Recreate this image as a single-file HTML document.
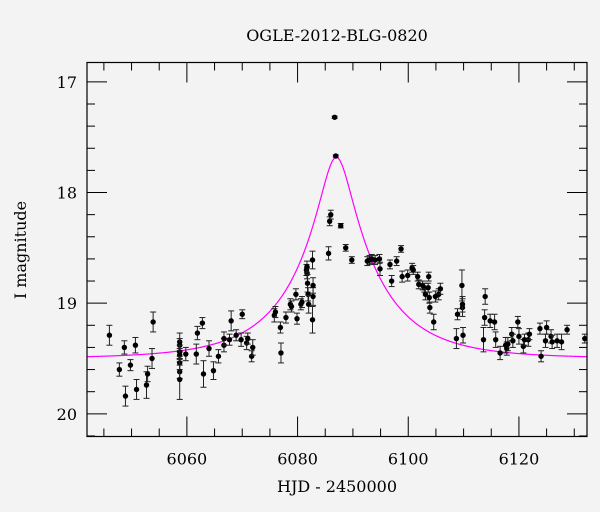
<!DOCTYPE html>
<html><head><meta charset="utf-8"><style>
body{margin:0;background:#f3f3f3;}
svg{display:block;font-family:"DejaVu Serif","Liberation Serif",serif;}
</style></head><body>
<svg id="chart" width="600" height="512" viewBox="0 0 600 512" xmlns="http://www.w3.org/2000/svg">
<rect width="600" height="512" fill="#f3f3f3"/>
<text x="337" y="41" text-anchor="middle" font-size="16">OGLE-2012-BLG-0820</text>
<text x="337" y="492" text-anchor="middle" font-size="16">HJD - 2450000</text>
<text transform="translate(26,250) rotate(-90)" text-anchor="middle" font-size="16">I magnitude</text>
<g id="ticks"></g>
<path id="model" fill="none" stroke="#ff00ff" stroke-width="1.2"/>
<g id="pts"></g>
<rect x="87" y="62.5" width="500" height="374" fill="none" stroke="#000" stroke-width="1.2"/>
</svg>
<script>
const days=[6046.0,6047.8,6048.7,6048.9,6049.8,6050.7,6050.9,6052.7,6052.9,6053.7,6053.9,6058.7,6058.7,6058.7,6058.7,6058.7,6058.7,6058.7,6059.8,6061.7,6061.9,6062.8,6063.0,6064.0,6064.8,6065.7,6066.7,6066.7,6067.7,6068.0,6068.9,6069.8,6070.0,6070.8,6071.0,6071.7,6071.9,6075.8,6076.0,6076.9,6077.0,6077.9,6078.7,6078.9,6079.7,6079.9,6080.6,6080.8,6081.6,6081.7,6081.7,6081.8,6081.9,6082.0,6082.7,6082.8,6082.8,6082.7,6085.6,6085.8,6086.0,6086.7,6086.9,6087.8,6088.7,6089.8,6092.6,6093.0,6093.4,6094.0,6094.8,6094.9,6096.7,6097.0,6097.9,6098.7,6098.9,6099.9,6100.7,6100.9,6101.7,6101.9,6102.6,6102.9,6103.1,6103.6,6103.7,6103.8,6103.9,6104.6,6104.9,6105.5,6105.8,6108.7,6108.9,6109.7,6109.8,6109.8,6109.9,6113.6,6113.8,6113.9,6114.8,6115.6,6115.8,6116.6,6117.6,6117.8,6118.0,6118.7,6118.9,6119.8,6120.0,6120.8,6121.0,6121.7,6121.9,6123.8,6124.0,6124.8,6125.0,6125.8,6126.0,6126.9,6127.7,6128.7,6131.9];
const mags=[19.29,19.60,19.40,19.84,19.56,19.38,19.78,19.74,19.64,19.50,19.17,19.35,19.38,19.44,19.47,19.54,19.62,19.69,19.46,19.46,19.27,19.18,19.64,19.41,19.61,19.48,19.38,19.32,19.33,19.16,19.29,19.33,19.10,19.36,19.32,19.48,19.40,19.11,19.08,19.22,19.45,19.13,19.01,19.03,18.92,19.14,19.01,18.99,18.70,18.73,18.67,18.82,18.92,19.01,18.61,18.94,18.84,19.15,18.55,18.26,18.20,17.32,17.67,18.30,18.50,18.61,18.62,18.61,18.60,18.61,18.60,18.69,18.65,18.80,18.62,18.51,18.76,18.75,18.68,18.70,18.76,18.83,18.84,18.86,18.92,18.86,18.76,18.95,19.04,19.17,18.94,18.92,18.87,19.32,19.10,18.84,19.04,19.01,19.29,19.33,19.13,18.94,19.16,19.17,19.33,19.45,19.38,19.41,19.37,19.28,19.34,19.17,19.30,19.39,19.33,19.33,19.28,19.23,19.48,19.34,19.22,19.30,19.35,19.34,19.35,19.24,19.32];
const errs=[0.09,0.06,0.06,0.09,0.05,0.07,0.09,0.12,0.07,0.09,0.09,0.08,0.06,0.06,0.06,0.06,0.06,0.18,0.06,0.09,0.06,0.05,0.12,0.07,0.08,0.06,0.06,0.06,0.05,0.09,0.05,0.06,0.04,0.06,0.05,0.05,0.07,0.06,0.05,0.05,0.09,0.05,0.05,0.05,0.05,0.05,0.05,0.05,0.05,0.05,0.05,0.08,0.06,0.08,0.08,0.08,0.07,0.12,0.06,0.04,0.04,0.01,0.01,0.02,0.03,0.03,0.04,0.04,0.04,0.04,0.04,0.06,0.04,0.05,0.04,0.03,0.05,0.05,0.04,0.04,0.04,0.04,0.04,0.04,0.05,0.04,0.04,0.05,0.05,0.07,0.05,0.05,0.05,0.09,0.05,0.14,0.08,0.07,0.07,0.11,0.07,0.07,0.06,0.07,0.07,0.06,0.07,0.06,0.06,0.06,0.06,0.05,0.07,0.06,0.05,0.06,0.05,0.05,0.05,0.06,0.06,0.06,0.06,0.06,0.07,0.04,0.04];
const xTickLabels=[6060,6080,6100,6120];
const yTickLabels=[17,18,19,20];
const t0=6087.0, tE=14.6, u0=0.19, baseMag=19.5;

const NS="http://www.w3.org/2000/svg";
const L=87,R=587,T=62.5,B=436.5;
const xMin=6041.95,xMax=6132.3,yMin=16.825,yMax=20.205;
const X=d=>L+(d-xMin)/(xMax-xMin)*(R-L);
const Y=m=>T+(m-yMin)/(yMax-yMin)*(B-T);
function el(tag,attrs,parent){const e=document.createElementNS(NS,tag);for(const k in attrs)e.setAttribute(k,attrs[k]);parent.appendChild(e);return e;}
const tk=document.getElementById('ticks');
for(let d=6045;d<=6130;d+=5){
  const major=(d%20===0), len=major?20:8;
  const a=el('line',{x1:X(d),x2:X(d),y1:B,y2:B-len,stroke:'#000','stroke-width':1},tk);
  
  
  const b=el('line',{x1:X(d),x2:X(d),y1:T,y2:T+len,stroke:'#000','stroke-width':1},tk);
  
  
}
xTickLabels.forEach(d=>{
  const t=el('text',{x:X(d),y:B+28,'text-anchor':'middle','font-size':16},tk);
  t.textContent=d;
  
  
});
for(let i=0;i<=16;i++){
  const m=17+i*0.2; const major=(i%5===0), len=major?20:8;
  const a=el('line',{x1:L,x2:L+len,y1:Y(m),y2:Y(m),stroke:'#000','stroke-width':1},tk);
  
  
  const b=el('line',{x1:R,x2:R-len,y1:Y(m),y2:Y(m),stroke:'#000','stroke-width':1},tk);
  
  
}
yTickLabels.forEach(m=>{
  const t=el('text',{x:L-10,y:Y(m)+6,'text-anchor':'end','font-size':16},tk);
  t.textContent=m;
  
  
});
let dPath='';
for(let d=xMin;d<=xMax;d+=0.1){
  const tau=(d-t0)/tE,u=Math.sqrt(tau*tau+u0*u0);
  const A=(u*u+2)/(u*Math.sqrt(u*u+4));
  const m=baseMag-2.5*Math.log10(A);
  dPath+=(dPath?'L':'M')+X(d).toFixed(2)+','+Y(m).toFixed(2);
}
document.getElementById('model').setAttribute('d',dPath);
const pg=document.getElementById('pts');
days.forEach((d,i)=>{
  const g=el('g',{},pg);
  
  
  const x=X(d),y1=Y(mags[i]-errs[i]),y2=Y(mags[i]+errs[i]);
  el('line',{x1:x,x2:x,y1:y1,y2:y2,stroke:'#222','stroke-width':1},g);
  el('line',{x1:x-3,x2:x+3,y1:y1,y2:y1,stroke:'#222','stroke-width':1},g);
  el('line',{x1:x-3,x2:x+3,y1:y2,y2:y2,stroke:'#222','stroke-width':1},g);
  el('circle',{cx:x,cy:Y(mags[i]),r:2.7,fill:'#000'},g);
});
</script>
</body></html>
